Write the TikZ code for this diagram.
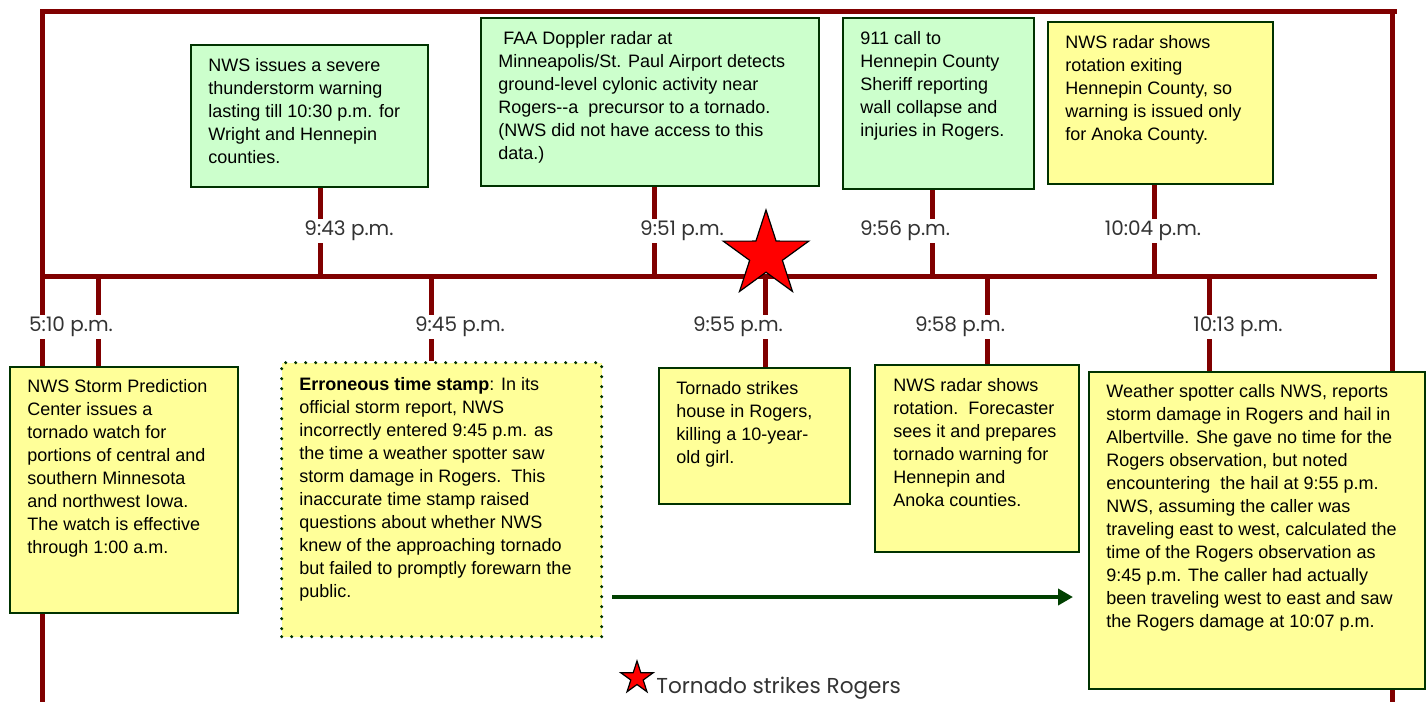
\documentclass[tikz,border=0pt]{standalone}
\usepackage{fontspec}
\setmainfont{Liberation Sans}
\newfontfamily\gothic{Poppins}
\usetikzlibrary{shapes.geometric,arrows.meta}

\definecolor{tlred}{RGB}{128,0,0}
\definecolor{boxline}{RGB}{0,51,0}
\definecolor{mint}{RGB}{204,255,204}
\definecolor{paleyellow}{RGB}{255,255,153}
\definecolor{arrowgreen}{RGB}{0,64,0}

\tikzset{
  rail/.style={draw=tlred, line width=2.5pt},
  tick/.style={draw=tlred, line width=2.5pt},
  evbox/.style={draw=boxline, line width=1pt, anchor=north west, inner sep=0pt},
  greenbox/.style={evbox, fill=mint},
  yellowbox/.style={evbox, fill=paleyellow},
  evtxt/.style={anchor=north west, align=left, inner sep=0pt, font=\fontsize{9}{11.5}\selectfont},
  stamp/.style={fill=white, inner sep=1pt, text=black!80, font=\gothic\fontsize{10}{12}\selectfont},
  hit/.style={star, star points=5, star point ratio=2.618, inner sep=0pt, fill=red, draw=black, line width=0.6pt},
}

\begin{document}
\begin{tikzpicture}[x=0.5pt, y=-0.5pt]
    \useasboundingbox (0,0) rectangle (1427,702);

    % frame and time axis
    \draw[rail] (40,11) -- (1397,11);
    \draw[rail] (42,9) -- (42,702);
    \draw[rail] (1392,9) -- (1392,702);
    \draw[rail] (42,276) -- (1377,276);

    % tick positions on the axis
    \coordinate (k943) at (320,276);
    \coordinate (k951) at (654,276);
    \coordinate (k956) at (932,276);
    \coordinate (k1004) at (1154,276);
    \coordinate (k510) at (98,276);
    \coordinate (k945) at (431,276);
    \coordinate (k955) at (765,276);
    \coordinate (k958) at (987,276);
    \coordinate (k1013) at (1209,276);

    % upper boxes
    \node[greenbox, minimum width=118.5pt, minimum height=71pt] (b943) at (190,44) {};
    \node[evtxt] (t943) at ([shift={(9pt,-7pt)}]b943.north west)
        {NWS issues a severe\\thunderstorm warning\\lasting till 10:30 p.m. for\\Wright and Hennepin\\counties.};

    \node[greenbox, minimum width=169pt, minimum height=84pt] (b951) at (480,17) {};
    \node[evtxt] (t951) at ([shift={(9pt,-7pt)}]b951.north west)
        {\hspace*{2.5pt}FAA Doppler radar at\\Minneapolis/St. Paul Airport detects\\ground-level cylonic activity near\\Rogers-{}-a\ \ precursor to a tornado.\\(NWS did not have access to this\\data.)};

    \node[greenbox, minimum width=95.5pt, minimum height=85.5pt] (b956) at (842,17) {};
    \node[evtxt] (t956) at ([shift={(9pt,-7pt)}]b956.north west)
        {911 call to\\Hennepin County\\Sheriff reporting\\wall collapse and\\injuries in Rogers.};

    \node[yellowbox, minimum width=112.5pt, minimum height=81pt] (b1004) at (1047,21) {};
    \node[evtxt] (t1004) at ([shift={(9pt,-7pt)}]b1004.north west)
        {NWS radar shows\\rotation exiting\\Hennepin County, so\\warning is issued only\\for Anoka County.};

    % lower boxes
    \node[yellowbox, minimum width=114pt, minimum height=123pt] (b510) at (9,366) {};
    \node[evtxt] (t510) at ([shift={(9pt,-6.5pt)}]b510.north west)
        {NWS Storm Prediction\\Center issues a\\tornado watch for\\portions of central and\\southern Minnesota\\and northwest Iowa.\\The watch is effective\\through 1:00 a.m.};

    \node[yellowbox, draw=boxline, line width=1.7pt, dash pattern=on 0pt off 5pt, line cap=round,
          minimum width=160pt, minimum height=137pt] (b945) at (280,361) {};
    \node[evtxt] (t945) at ([shift={(9.5pt,-8pt)}]b945.north west)
        {\textbf{Erroneous time stamp}: In its\\official storm report, NWS\\incorrectly entered 9:45 p.m. as\\the time a weather spotter saw\\storm damage in Rogers.\ \ This\\inaccurate time stamp raised\\questions about whether NWS\\knew of the approaching tornado\\but failed to promptly forewarn the\\public.};

    \node[yellowbox, minimum width=95.5pt, minimum height=68pt] (b955) at (658,367) {};
    \node[evtxt] (t955) at ([shift={(9pt,-7pt)}]b955.north west)
        {Tornado strikes\\house in Rogers,\\killing a 10-year-\\old girl.};

    \node[yellowbox, minimum width=102pt, minimum height=93.5pt] (b958) at (874,364) {};
    \node[evtxt] (t958) at ([shift={(9.5pt,-7pt)}]b958.north west)
        {NWS radar shows\\rotation.\ \ Forecaster\\sees it and prepares\\tornado warning for\\Hennepin and\\Anoka counties.};

    \node[yellowbox, minimum width=168pt, minimum height=158.5pt] (b1013) at (1088,371) {};
    \node[evtxt] (t1013) at ([shift={(9pt,-6.5pt)}]b1013.north west)
        {Weather spotter calls NWS, reports\\storm damage in Rogers and hail in\\Albertville. She gave no time for the\\Rogers observation, but noted\\encountering\ \ the hail at 9:55 p.m.\\NWS, assuming the caller was\\traveling east to west, calculated the\\time of the Rogers observation as\\9:45 p.m. The caller had actually\\been traveling west to east and saw\\the Rogers damage at 10:07 p.m.};

    % ticks
    \draw[tick] (k943) -- (k943 |- b943.south);
    \draw[tick] (k951) -- (k951 |- b951.south);
    \draw[tick] (k956) -- (k956 |- b956.south);
    \draw[tick] (k1004) -- (k1004 |- b1004.south);
    \draw[tick] (k510) -- (k510 |- b510.north);
    \draw[tick] (k945) -- (k945 |- b945.north);
    \draw[tick] (k955) -- (k955 |- b955.north);
    \draw[tick] (k958) -- (k958 |- b958.north);
    \draw[tick] (k1013) -- (k1013 |- b1013.north);

    % time stamps
    \node[stamp] (l943) at (349,231) {9:43 p.m.};
    \node[stamp] (l951) at (682,231) {9:51 p.m.};
    \node[stamp] (l956) at (905,231) {9:56 p.m.};
    \node[stamp] (l1004) at (1153,231) {10:04 p.m.};
    \node[stamp] (l510) at (71,327) {5:10 p.m.};
    \node[stamp] (l945) at (460,327) {9:45 p.m.};
    \node[stamp] (l955) at (738,327) {9:55 p.m.};
    \node[stamp] (l958) at (960,327) {9:58 p.m.};
    \node[stamp] (l1013) at (1238,327) {10:13 p.m.};

    % tornado star
    \node[hit, minimum size=45pt] (strike) at (766,255) {};

    % correction arrow
    \coordinate (arrs) at (612,597);
    \coordinate (arre) at (1073,597);
    \draw[arrowgreen, line width=2pt, -{Triangle[length=7.5pt,width=8pt]}] (arrs) -- (arre);

    % legend
    \node[hit, minimum size=17pt] (keystar) at (637,678) {};
    \node[anchor=west, inner sep=0pt, text=black!80, font=\gothic\fontsize{10.8}{13}\selectfont] (keytxt) at (656,688) {Tornado strikes Rogers};
\end{tikzpicture}
\end{document}
